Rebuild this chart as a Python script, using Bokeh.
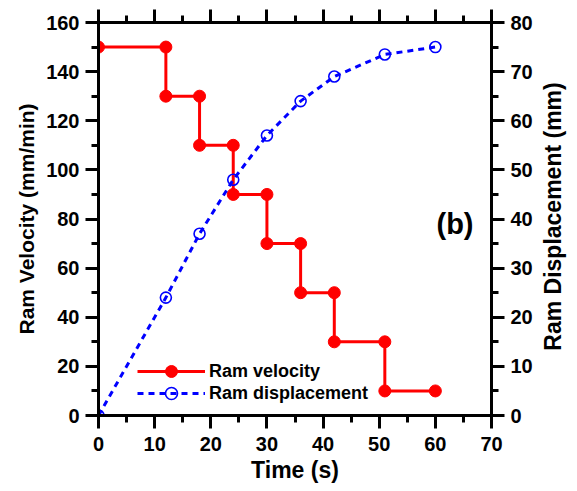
import math
from bokeh.plotting import figure
from bokeh.models import (Range1d, LinearAxis, SingleIntervalTicker, Legend,
                          LegendItem, Label)
from bokeh.embed import file_html
from bokeh.resources import INLINE

# ---- data ----
time_velocity = [0, 12, 12, 18, 18, 24, 24, 30, 30, 36, 36, 42, 42, 51, 51, 60]
ram_velocity = [150, 150, 130, 130, 110, 110, 90, 90, 70, 70, 50, 50, 30, 30, 10, 10]
time_disp = [0, 12, 18, 24, 30, 36, 42, 51, 60]
ram_displacement = [0, 24, 37, 48, 57, 64, 69, 73.5, 75]
x_ticks = [0, 10, 20, 30, 40, 50, 60, 70]

FONT = "Liberation Sans"

p = figure(width=577, height=491, output_backend="svg", toolbar_location=None,
           x_range=Range1d(0, 70), y_range=Range1d(0, 160),
           x_axis_location=None, y_axis_location=None,
           min_border_left=98, min_border_right=86,
           min_border_top=22, min_border_bottom=76)
p.extra_y_ranges = {"disp": Range1d(0, 80)}
p.grid.visible = False
p.outline_line_color = None
p.background_fill_color = "white"
p.border_fill_color = "white"


def style(ax, interval, title_size="22px"):
    ax.ticker = SingleIntervalTicker(interval=interval, num_minor_ticks=2)
    ax.axis_line_width = 3
    ax.axis_line_color = "black"
    ax.major_tick_line_width = 3
    ax.minor_tick_line_width = 3
    ax.major_tick_in = 0
    ax.major_tick_out = 13
    ax.minor_tick_in = 0
    ax.minor_tick_out = 7
    ax.major_label_text_font = FONT
    ax.major_label_text_font_style = "bold"
    ax.major_label_text_font_size = "20px"
    ax.major_label_text_color = "black"
    ax.axis_label_text_font = FONT
    ax.axis_label_text_font_style = "bold"
    ax.axis_label_text_font_size = title_size
    ax.axis_label_text_color = "black"


bottom = LinearAxis(axis_label="Time (s)")
style(bottom, 10, "23px")
bottom.major_label_standoff = 8
bottom.axis_label_standoff = 3
p.add_layout(bottom, "below")

top = LinearAxis()
style(top, 10)
top.major_label_overrides = {t: "" for t in x_ticks}
top.major_label_standoff = 0
p.add_layout(top, "above")

left = LinearAxis(axis_label="Ram Velocity (mm/min)")
style(left, 20, "21px")
left.major_label_standoff = 6
left.axis_label_standoff = 5
p.add_layout(left, "left")

right = LinearAxis(y_range_name="disp")
style(right, 10)
right.major_label_standoff = 6
p.add_layout(right, "right")

# right-axis title in the right side panel, reading bottom-to-top
p.add_layout(Label(x=17, y=199, x_units="screen", y_units="screen",
                   text="Ram Displacement (mm)", angle=math.pi / 2,
                   text_font=FONT, text_font_style="bold",
                   text_font_size="23px", text_align="center",
                   text_baseline="middle", text_color="black"), "right")

# ---- series ----
rv_line = p.line(time_velocity, ram_velocity, line_color="#ff0000", line_width=3)
rv_pts = p.scatter(time_velocity, ram_velocity, marker="circle", size=12,
                   fill_color="#ff0000", line_color="#ff0000")

rd_line = p.line(time_disp, ram_displacement, y_range_name="disp",
                 line_color="#0000ff", line_width=3, line_dash="6 5")
rd_pts = p.scatter(time_disp, ram_displacement, y_range_name="disp",
                   marker="circle", size=11, fill_color=None,
                   line_color="#0000ff", line_width=1.6)

common = dict(padding=0, margin=0, spacing=0, glyph_width=68, glyph_height=30,
              label_height=20, label_standoff=4, border_line_color=None,
              background_fill_alpha=0, label_text_font=FONT,
              label_text_font_style="bold", label_text_font_size="18px",
              label_text_color="black")
leg_v = Legend(items=[LegendItem(label="Ram velocity", renderers=[rv_line, rv_pts])],
               location=(39, 29), **common)
leg_d = Legend(items=[LegendItem(label="Ram displacement", renderers=[rd_line, rd_pts])],
               location=(39, 7), **common)
p.add_layout(leg_v)
p.add_layout(leg_d)

p.add_layout(Label(x=63.5, y=78, text="(b)", text_font=FONT,
                   text_font_style="bold", text_font_size="29px",
                   text_align="center", text_baseline="middle",
                   text_color="black"))

open("out.html", "w").write(file_html(p, INLINE))
